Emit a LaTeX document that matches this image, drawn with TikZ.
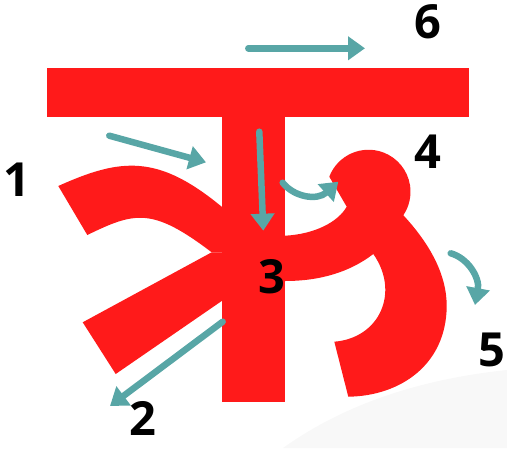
\documentclass[tikz,border=0pt]{standalone}
\usepackage{fontspec}
\setmainfont{Open Sans}
\usetikzlibrary{arrows.meta}
\definecolor{letterred}{HTML}{FF1A1A}
\definecolor{stroketeal}{HTML}{58A6A6}
\definecolor{shadegray}{HTML}{F8F8F8}
\tikzset{
  letter/.style={fill=letterred},
  strokearrow/.style={draw=stroketeal, line width=6.5pt, line cap=round,
    -{Triangle[length=17pt,width=23pt]}},
  steplabel/.style={font=\bfseries\fontsize{47}{47}\selectfont, inner sep=0pt}
}
\begin{document}
\begin{tikzpicture}[x=1pt, y=-1pt]
  \useasboundingbox (0,0) rectangle (507,448);
  % faint shading in the lower right corner
  \fill[shadegray] (283,448) .. controls (350,400) and (430,378) .. (507,370)
    -- (507,448) -- cycle;
  % headstroke and stem
  \fill[letter] (46.7,67.7) rectangle (469.3,116.7);
  \fill[letter] (221.7,116.7) rectangle (285.3,402.3);
  % upper left arm
  \fill[letter] (58.3,186) .. controls (121.7,157.4) and (158.3,154.5) .. (221.7,206.7)
    -- (230,212) -- (230,252.3) -- (211.7,252.3)
    .. controls (152.1,207) and (134.9,211.9) .. (87.3,235) -- cycle;
  % lower left arm
  \fill[letter] (211.7,252.3) -- (82.7,322.3) -- (115.7,374) -- (221.7,301)
    -- (230,301) -- (230,252.3) -- cycle;
  % right part: bridge, loop head and big bowl
  \fill[letter] (285.3,235.7) .. controls (315,234) and (338,222) .. (346.7,206.7)
    -- (329.3,176.7) arc[start angle=-159, end angle=34, radius=42]
    .. controls (430,244) and (447,275) .. (446.7,306.7)
    .. controls (446,365) and (400,396) .. (348.3,396.7)
    -- (334.3,341.7) .. controls (380,338) and (400,292) .. (373.3,254)
    .. controls (350,272) and (320,281) .. (285.3,281)
    -- (278,281) -- (278,235.7) -- cycle;
  % stroke direction arrows
  \draw[strokearrow] (109.3,135.7) -- (206,162.3);
  \draw[strokearrow] (222.7,321.7) -- (110,406);
  \draw[strokearrow] (259.3,131.7) -- (263.3,230.7);
  \draw[strokearrow] (282.7,182.7) .. controls (294,197) and (317,201) .. (338.3,181.7);
  \draw[strokearrow] (450.7,253.3) .. controls (468,258) and (480,278) .. (475,305);
  \draw[strokearrow] (248.3,48.3) -- (365,48.3);
  % step numbers
  \node[steplabel] (n1) at (16.7,180) {1};
  \node[steplabel] (n2) at (142.7,418.3) {2};
  \node[steplabel] (n3) at (271.7,276.7) {3};
  \node[steplabel] (n4) at (427.7,151.7) {4};
  \node[steplabel] (n5) at (491.7,350) {5};
  \node[steplabel] (n6) at (427.7,21.7) {6};
\end{tikzpicture}
\end{document}
